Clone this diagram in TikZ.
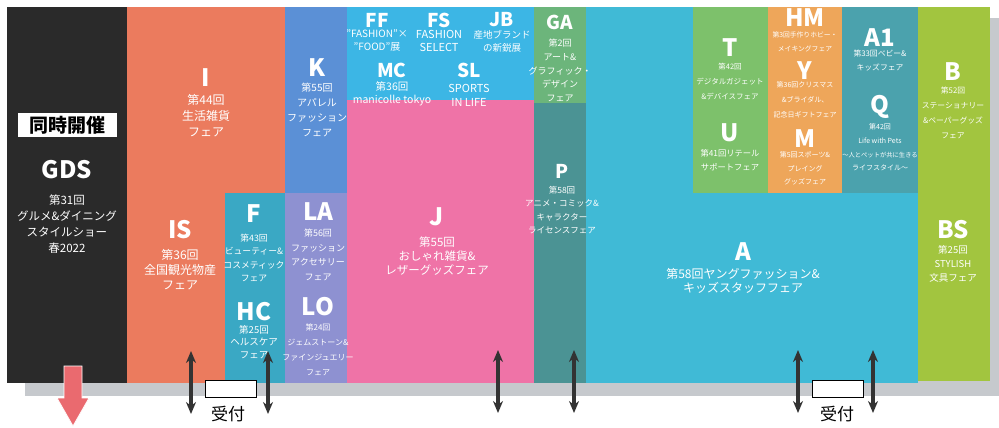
\documentclass[tikz,border=0pt]{standalone}
\usepackage{fontspec}
\setmainfont{Noto Sans CJK JP}
\usetikzlibrary{arrows.meta}
\definecolor{gdsblack}{HTML}{2A2A2A}
\definecolor{salmon}{HTML}{EB7B5E}
\definecolor{kblue}{HTML}{5B90D6}
\definecolor{fteal}{HTML}{3AA8C4}
\definecolor{lavender}{HTML}{8E91D1}
\definecolor{topcyan}{HTML}{3CB6E5}
\definecolor{jpink}{HTML}{EF73A7}
\definecolor{gagreen}{HTML}{6CB57B}
\definecolor{pteal}{HTML}{4B9394}
\definecolor{acyan}{HTML}{40BAD6}
\definecolor{tgreen}{HTML}{7DC16B}
\definecolor{horange}{HTML}{EEA65A}
\definecolor{aqteal}{HTML}{4BA2AD}
\definecolor{bgreen}{HTML}{A2C53F}
\definecolor{floorgrey}{HTML}{C6C9CD}
\definecolor{arrowc}{HTML}{333333}
\definecolor{redarr}{HTML}{EA6A6F}
\newcommand{\fsz}[2]{\fontsize{#1}{#2}\selectfont}
\begin{document}
\begin{tikzpicture}[x=1pt,y=-1pt,
  big/.style={text=white,font=\bfseries\fsz{24}{24},inner sep=0pt},
  mid/.style={text=white,font=\bfseries\fsz{19}{19},inner sep=0pt},
  desc/.style={text=white,align=center,inner sep=0pt},
  dbl/.style={draw=arrowc,line width=3.6pt,{Stealth[length=12pt,width=10pt]}-{Stealth[length=12pt,width=10pt]}},
  recep/.style={draw=black,line width=1.2pt,fill=white,minimum width=51pt,minimum height=17pt,inner sep=0pt},
  recl/.style={text=black,font=\fsz{17}{17},inner sep=0pt}]
\useasboundingbox (0,0) rectangle (999,428);
% floor shadow
\fill[floorgrey] (25,380) rectangle (992,396);
\fill[floorgrey] (989,18) rectangle (999,396);
% halls
\fill[gdsblack] (7,7) rectangle (127,383);
\fill[salmon] (127,7) rectangle (285,383);
\fill[fteal] (225,193) rectangle (285,383);
\fill[kblue] (285,7) rectangle (347,193);
\fill[lavender] (285,193) rectangle (347,383);
\fill[topcyan] (347,7) rectangle (534,100);
\fill[jpink] (347,100) rectangle (534,383);
\fill[gagreen] (534,7) rectangle (586,103);
\fill[pteal] (534,103) rectangle (586,383);
\fill[acyan] (586,7) rectangle (918,383);
\fill[tgreen] (693,7) rectangle (768,193);
\fill[horange] (768,7) rectangle (842,193);
\fill[aqteal] (842,7) rectangle (918,193);
\fill[bgreen] (918,7) rectangle (990,381);
% exit arrow
\fill[redarr,draw=white,line width=0.8pt] (64,366) -- (82,366) -- (82,398) -- (89,398) -- (73,426) -- (57,398) -- (64,398) -- cycle;
% entrances
\coordinate (e1t) at (191,351); \coordinate (e1b) at (191,414);
\coordinate (e2t) at (268,351); \coordinate (e2b) at (268,414);
\coordinate (e3t) at (498,350); \coordinate (e3b) at (498,413);
\coordinate (e4t) at (574,350); \coordinate (e4b) at (574,413);
\coordinate (e5t) at (798,350); \coordinate (e5b) at (798,413);
\coordinate (e6t) at (873,350); \coordinate (e6b) at (873,413);
\draw[dbl] (e1t) -- (e1b);
\draw[dbl] (e2t) -- (e2b);
\draw[dbl] (e3t) -- (e3b);
\draw[dbl] (e4t) -- (e4b);
\draw[dbl] (e5t) -- (e5b);
\draw[dbl] (e6t) -- (e6b);
% reception
\node[recep] (rc1) at (231,389) {};
\node[recl] (rl1) at (228,414) {受付};
\node[recep] (rc2) at (838,389) {};
\node[recl] (rl2) at (837,414) {受付};
% GDS
\node[fill=white,minimum width=99pt,minimum height=24pt,inner sep=0pt,font=\bfseries\fsz{19}{19}] (dj) at (67,125) {同時開催};
\node[big] (gds-t) at (67,170) {GDS};
\node[desc,font=\fsz{11.5}{16}] (gds-d) at (67,224) {第31回\\グルメ\&ダイニング\\スタイルショー\\春2022};
% I / IS
\node[big] (i-t) at (206,78) {I};
\node[desc,font=\fsz{12}{16}] (i-d) at (206,116) {第44回\\生活雑貨\\フェア};
\node[big] (is-t) at (180,230) {IS};
\node[desc,font=\fsz{12}{15}] (is-d) at (180,270) {第36回\\全国観光物産\\フェア};
% K
\node[big] (k-t) at (317,68) {K};
\node[desc,font=\fsz{10}{14.7}] (k-d) at (317,110) {第55回\\アパレル\\ファッション\\フェア};
% F / HC
\node[big] (f-t) at (254,214) {F};
\node[desc,font=\fsz{8.8}{13.5}] (f-d) at (254,258) {第43回\\ビューティー\&\\コスメティック\\フェア};
\node[big] (hc-t) at (254,312) {HC};
\node[desc,font=\fsz{9.5}{12.5}] (hc-d) at (254,342) {第25回\\ヘルスケア\\フェア};
% LA / LO
\node[big] (la-t) at (318,212) {LA};
\node[desc,font=\fsz{9}{14.7}] (la-d) at (318,255) {第56回\\ファッション\\アクセサリー\\フェア};
\node[big] (lo-t) at (318,307) {LO};
\node[desc,font=\fsz{8}{15}] (lo-d) at (318,350) {第24回\\ジェムストーン\&\\ファインジュエリー\\フェア};
% top cyan hall
\node[mid] (ff-t) at (377,20) {FF};
\node[desc,font=\fsz{10}{13}] (ff-d) at (377,41) {"FASHION"×\\"FOOD"展};
\node[mid] (fs-t) at (439,20) {FS};
\node[desc,font=\fsz{11}{13}] (fs-d) at (439,41) {FASHION\\SELECT};
\node[mid] (jb-t) at (502,20) {JB};
\node[desc,font=\fsz{9.5}{13}] (jb-d) at (502,41) {産地ブランド\\の新鋭展};
\node[mid] (mc-t) at (392,70) {MC};
\node[desc,font=\fsz{10.5}{13}] (mc-d) at (392,93.5) {第36回\\manicolle tokyo};
\node[mid] (sl-t) at (469,70) {SL};
\node[desc,font=\fsz{11}{14}] (sl-d) at (469,95) {SPORTS\\IN LIFE};
% J
\node[big] (j-t) at (437,217) {J};
\node[desc,font=\fsz{11.5}{14}] (j-d) at (437,256) {第55回\\おしゃれ雑貨\&\\レザーグッズフェア};
% GA / P
\node[mid] (ga-t) at (560,22) {GA};
\node[desc,font=\fsz{9}{13.75}] (ga-d) at (560,70.5) {第2回\\アート\&\\グラフィック・\\デザイン\\フェア};
\node[mid] (p-t) at (562,171) {P};
\node[desc,font=\fsz{8.5}{13.3}] (p-d) at (562,210) {第58回\\アニメ・コミック\&\\キャラクター\\ライセンスフェア};
% A
\node[big] (a-t) at (743,252) {A};
\node[desc,font=\fsz{12}{14}] (a-d) at (743,281) {第58回ヤングファッション\&\\キッズスタッフフェア};
% T / U
\node[big] (t-t) at (730,48) {T};
\node[desc,font=\fsz{7.5}{15}] (t-d) at (730,82) {第42回\\デジタルガジェット\\\&デバイスフェア};
\node[big] (u-t) at (730,133) {U};
\node[desc,font=\fsz{8.3}{14}] (u-d) at (730,160) {第41回リテール\\サポートフェア};
% HM / Y / M
\node[big] (hm-t) at (805,18) {HM};
\node[desc,font=\fsz{6.8}{14}] (hm-d) at (805,42) {第3回手作りホビー・\\メイキングフェア};
\node[big] (y-t) at (805,71) {Y};
\node[desc,font=\fsz{7}{15}] (y-d) at (805,100) {第36回クリスマス\\\&ブライダル、\\記念日ギフトフェア};
\node[big] (m-t) at (805,139) {M};
\node[desc,font=\fsz{7}{13.5}] (m-d) at (805,168.5) {第5回スポーツ\&\\プレイング\\グッズフェア};
% A1 / Q
\node[big] (a1-t) at (880,38) {A1};
\node[desc,font=\fsz{7.8}{14}] (a1-d) at (880,60) {第33回ベビー\&\\キッズフェア};
\node[big] (q-t) at (880,107) {Q};
\node[desc,font=\fsz{7}{13.7}] (q-d) at (880,147.5) {第42回\\Life with Pets\\{\fsz{6.3}{13.7}〜人とペットが共に生きる}\\ライフスタイル〜};
% B / BS
\node[big] (b-t) at (953,72) {B};
\node[desc,font=\fsz{7.8}{15}] (b-d) at (953,112.5) {第52回\\ステーショナリー\\\&ペーパーグッズ\\フェア};
\node[big] (bs-t) at (953,230) {BS};
\node[desc,font=\fsz{9.5}{14}] (bs-d) at (953,264) {第25回\\STYLISH\\文具フェア};
\end{tikzpicture}
\end{document}
